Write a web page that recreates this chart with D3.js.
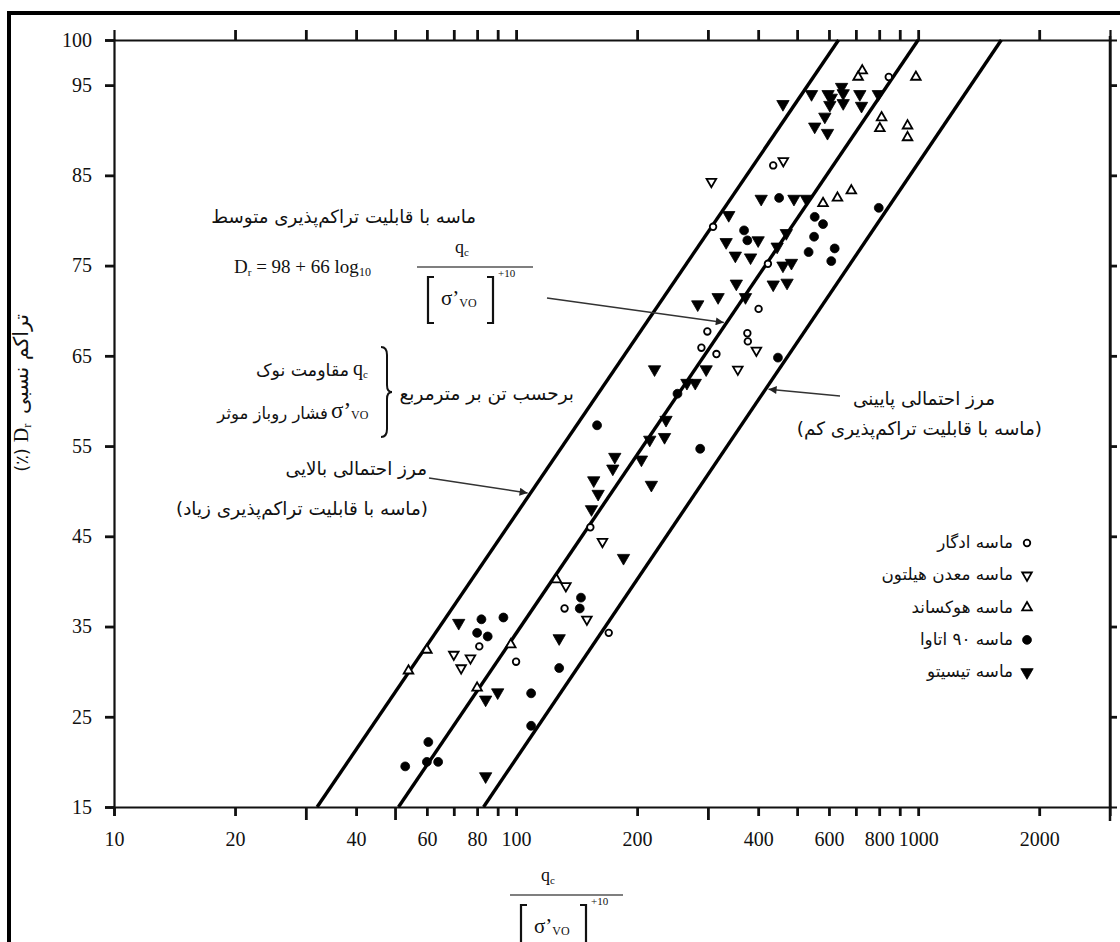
<!DOCTYPE html>
<html>
<head>
<meta charset="utf-8">
<script src="https://cdn.jsdelivr.net/npm/d3@7"></script>
<style>
body { margin: 0; background: #fff; }
svg { display: block; }
.num { font-family: "Liberation Serif", "Times New Roman", serif; fill: #111; }
.fa { font-family: "DejaVu Sans", sans-serif; fill: #111; }
.ser { font-family: "Liberation Serif", "Times New Roman", serif; fill: #111; }
</style>
</head>
<body>
<div id="chart"></div>
<script>
//Page size
const WIDTH = 1120;
const HEIGHT = 942;

//Axis values
const X_DOMAIN = [10, 3000];
const Y_DOMAIN = [15, 100];
const X_TICKS = [10, 20, 30, 40, 50, 60, 70, 80, 90, 100, 200, 300, 400, 500, 600, 700, 800, 900, 1000, 2000];
const X_LABELS = [10, 20, 40, 60, 80, 100, 200, 400, 600, 800, 1000, 2000];
const X_LONG_TICKS = [30, 50, 300];
const Y_LABELS = [15, 25, 35, 45, 55, 65, 75, 85, 95, 100];

//Boundary lines [qc/sqrt(s'vo), Dr]
const UPPER_BOUND = [[32, 15], [634, 100]];
const MEAN_LINE = [[51, 15], [1000, 100]];
const LOWER_BOUND = [[83, 15], [1610, 100]];

//Data points [qc/sqrt(s'vo), Dr]
const EDGAR = [[845, 95.9], [436, 86.1], [309, 79.3], [423, 75.2], [401, 70.2], [299, 67.7], [376, 67.5],
  [377, 66.6], [289, 65.9], [315, 65.2], [153, 46.0], [132, 37.0], [170, 34.3], [81, 32.8], [100, 31.1]];
const HILTON = [[306, 84.3], [462, 86.6], [396, 65.6], [356, 63.5], [164, 44.4], [133, 39.5], [150, 35.8],
  [70, 31.9], [77, 31.5], [73, 30.4]];
const HOKKSUND = [[726, 96.6], [709, 95.9], [987, 95.9], [811, 91.4], [803, 90.2], [941, 90.5], [941, 89.2],
  [580, 81.9], [630, 82.5], [682, 83.3], [60, 32.4], [54, 30.1], [80, 28.2], [97, 33.0], [126, 40.2]];
const OTTAWA = [[451, 82.5], [798, 81.4], [369, 78.9], [376, 77.8], [553, 80.4], [580, 79.6], [551, 78.2],
  [534, 76.5], [620, 76.9], [608, 75.5], [448, 64.8], [252, 60.8], [159, 57.3], [287, 54.7], [145, 38.2],
  [144, 37.0], [128, 30.4], [109, 27.6], [109, 24.0], [82, 35.8], [93, 36.0], [80, 34.3], [85, 33.9],
  [60.5, 22.2], [53, 19.5], [60, 20.0], [64, 20.0]];
const TICINO = [[461, 92.9], [543, 94.0], [597, 94.0], [608, 93.6], [603, 92.8], [645, 94.8], [651, 94.1],
  [651, 93.0], [716, 94.0], [723, 92.7], [796, 94.0], [586, 91.5], [553, 90.4], [595, 89.7], [407, 82.4],
  [491, 82.4], [527, 82.4], [338, 80.6], [333, 77.6], [400, 77.8], [470, 78.6], [446, 77.1], [351, 76.1],
  [383, 75.9], [461, 75.0], [484, 75.3], [353, 73.0], [436, 72.9], [472, 73.1], [372, 71.5], [318, 71.5],
  [283, 70.7], [221, 63.5], [297, 63.5], [266, 62.0], [279, 62.0], [236, 57.9], [234, 56.0], [215, 55.7],
  [176, 53.8], [174, 52.5], [205, 53.5], [217, 50.7], [156, 51.2], [160, 49.7], [154, 48.0], [185, 42.6],
  [128, 33.7], [72, 35.4], [84, 26.9], [90, 27.7], [84, 18.4]];

//Legend names
const SERIES_NAMES = ["ماسه ادگار", "ماسه معدن هیلتون", "ماسه هوکساند", "ماسه ۹۰ اتاوا", "ماسه تیسیتو"];

//////////////////////////////////////////////////

var svg = d3.select("#chart").append("svg")
  .attr("width", WIDTH)
  .attr("height", HEIGHT);

var x = d3.scaleLog().domain(X_DOMAIN).range([114, 1110]);
var y = d3.scaleLinear().domain(Y_DOMAIN).range([807, 40]);

//arrow head
svg.append("defs").append("marker")
  .attr("id", "head")
  .attr("viewBox", "0 0 10 10")
  .attr("refX", 10).attr("refY", 5)
  .attr("markerWidth", 15).attr("markerHeight", 8)
  .attr("markerUnits", "userSpaceOnUse")
  .attr("orient", "auto")
  .append("path").attr("d", "M0,0 L10,5 L0,10 z").attr("fill", "#222");

//Outer frame (top and left)
svg.append("line").attr("x1", 7).attr("x2", WIDTH).attr("y1", 13).attr("y2", 13)
  .attr("stroke", "#000").attr("stroke-width", 4);
svg.append("line").attr("x1", 9).attr("x2", 9).attr("y1", 11).attr("y2", HEIGHT)
  .attr("stroke", "#000").attr("stroke-width", 4);

//////////////////////////////////////////////////
//Axes
function styleAxis(g) {
  g.attr("font-size", null).attr("font-family", null);
  g.select(".domain").attr("stroke", "#111").attr("stroke-width", 2.2);
  g.selectAll(".tick line").attr("stroke", "#111").attr("stroke-width", 2.8);
  g.selectAll(".tick text").attr("class", "num").style("font-size", "20px");
}

var axBottom = svg.append("g").attr("transform", "translate(0," + y(15) + ")")
  .call(d3.axisBottom(x).tickValues(X_TICKS).tickSizeOuter(0).tickSize(9).tickPadding(16)
    .tickFormat(d => X_LABELS.includes(d) ? d : ""));
axBottom.call(styleAxis);
axBottom.selectAll(".tick line").attr("y2", d => X_LONG_TICKS.includes(d) ? 13 : 9);

var axTop = svg.append("g").attr("transform", "translate(0," + y(100) + ")")
  .call(d3.axisTop(x).tickValues(X_TICKS.filter(d => d > 10)).tickSizeOuter(0).tickSize(10).tickFormat(""));
axTop.call(styleAxis);

var axLeft = svg.append("g").attr("transform", "translate(" + x(10) + ",0)")
  .call(d3.axisLeft(y).tickValues(Y_LABELS).tickSizeOuter(0).tickSize(9).tickPadding(13));
axLeft.call(styleAxis);

var axRight = svg.append("g").attr("transform", "translate(" + x(3000) + ",0)")
  .call(d3.axisRight(y).tickValues(Y_LABELS.filter(d => d > 15 && d < 100)).tickSizeOuter(0).tickSize(7).tickFormat(""));
axRight.call(styleAxis);
svg.append("line").attr("x1", x(3000)).attr("x2", x(3000)).attr("y1", y(100) - 4).attr("y2", y(15) + 14)
  .attr("stroke", "#111").attr("stroke-width", 2.5);

//////////////////////////////////////////////////
//Boundary lines
var line = d3.line().x(d => x(d[0])).y(d => y(d[1]));
[UPPER_BOUND, MEAN_LINE, LOWER_BOUND].forEach(function(l) {
  svg.append("path").attr("d", line(l))
    .attr("fill", "none").attr("stroke", "#000").attr("stroke-width", 3.4);
});

//point on a boundary line at a given Dr
function onLine(l, dr) {
  var a = Math.log10(l[0][0]), b = Math.log10(l[1][0]);
  var t = (dr - l[0][1]) / (l[1][1] - l[0][1]);
  return [x(Math.pow(10, a + t * (b - a))), y(dr)];
}

//////////////////////////////////////////////////
//Points
var series = [
  {data: EDGAR, type: d3.symbolCircle, size: 34, filled: false, rot: 0},
  {data: HILTON, type: d3.symbolTriangle, size: 40, filled: false, rot: 180},
  {data: HOKKSUND, type: d3.symbolTriangle, size: 40, filled: false, rot: 0},
  {data: OTTAWA, type: d3.symbolCircle, size: 62, filled: true, rot: 0},
  {data: TICINO, type: d3.symbolTriangle, size: 66, filled: true, rot: 180}
];

function drawSymbol(g, s, px, py) {
  g.append("path")
    .attr("d", d3.symbol().type(s.type).size(s.size)())
    .attr("transform", "translate(" + px + "," + py + ") rotate(" + s.rot + ")")
    .attr("fill", s.filled ? "#000" : "#fff")
    .attr("stroke", "#000")
    .attr("stroke-width", s.filled ? 0.8 : 1.8);
}

var pts = svg.append("g");
series.forEach(function(s) {
  s.data.forEach(function(d) { drawSymbol(pts, s, x(d[0]), y(d[1])); });
});

//Legend
var legend = svg.append("g");
series.forEach(function(s, i) {
  var ly = 548 + i * 32.3;
  drawSymbol(legend, s, 1027, ly - 5);
  legend.append("text").attr("class", "fa").attr("font-size", 16.8)
    .attr("x", 1013).attr("y", ly).attr("text-anchor", "end").text(SERIES_NAMES[i]);
});

//////////////////////////////////////////////////
//Annotations
var ann = svg.append("g");

function bracketL(g, bx, y0, y1) {
  g.append("path").attr("d", "M" + (bx + 6) + "," + y0 + " H" + bx + " V" + y1 + " H" + (bx + 6))
    .attr("fill", "none").attr("stroke", "#111").attr("stroke-width", 2.2);
}
function bracketR(g, bx, y0, y1) {
  g.append("path").attr("d", "M" + (bx - 6) + "," + y0 + " H" + bx + " V" + y1 + " H" + (bx - 6))
    .attr("fill", "none").attr("stroke", "#111").attr("stroke-width", 2.2);
}
//q_c over [s'vo]^0.5
function fraction(g, cx, ty, lineX0, lineX1) {
  var q = g.append("text").attr("class", "ser").attr("font-size", 18).attr("x", cx).attr("y", ty)
    .attr("text-anchor", "middle");
  q.append("tspan").text("q");
  q.append("tspan").attr("font-size", 11).attr("dy", 3).text("c");
  g.append("line").attr("x1", lineX0).attr("x2", lineX1).attr("y1", ty + 14).attr("y2", ty + 14)
    .attr("stroke", "#555").attr("stroke-width", 1.4);
  var bx = lineX0 + 11;
  bracketL(g, bx, ty + 24, ty + 70);
  bracketR(g, bx + 65, ty + 24, ty + 70);
  var s = g.append("text").attr("class", "ser").attr("font-size", 21).attr("x", bx + 13).attr("y", ty + 52);
  s.append("tspan").text("σ’");
  s.append("tspan").attr("font-size", 12).attr("dy", 2).text("VO");
  g.append("text").attr("class", "ser").attr("font-size", 11).attr("x", bx + 70).attr("y", ty + 24).text("+10");
}

//Mean line label
ann.append("text").attr("class", "fa").attr("font-size", 18.2)
  .attr("x", 476).attr("y", 223).attr("text-anchor", "end").text("ماسه با قابلیت تراکم‌پذیری متوسط");
var eq = ann.append("text").attr("class", "ser").attr("font-size", 19).attr("x", 234).attr("y", 273);
eq.append("tspan").text("D");
eq.append("tspan").attr("font-size", 11).attr("dy", 3).text("r");
eq.append("tspan").attr("dy", -3).text(" = 98 + 66 log");
eq.append("tspan").attr("font-size", 12).attr("dy", 3).text("10");
fraction(ann, 462, 253, 417, 533);
var tipMean = onLine(MEAN_LINE, 68.7);
ann.append("line").attr("x1", 547).attr("y1", 298).attr("x2", tipMean[0] - 3).attr("y2", tipMean[1])
  .attr("stroke", "#333").attr("stroke-width", 1.4).attr("marker-end", "url(#head)");

//Units note
var q1 = ann.append("text").attr("class", "ser").attr("font-size", 20).attr("x", 353).attr("y", 375);
q1.append("tspan").text("q");
q1.append("tspan").attr("font-size", 11).attr("dy", 3).text("c");
ann.append("text").attr("class", "fa").attr("font-size", 17.4)
  .attr("x", 349).attr("y", 376).attr("text-anchor", "end").text("مقاومت نوک");
var s1 = ann.append("text").attr("class", "ser").attr("font-size", 23).attr("x", 331).attr("y", 418);
s1.append("tspan").text("σ’");
s1.append("tspan").attr("font-size", 12).attr("dy", 1).text("VO");
ann.append("text").attr("class", "fa").attr("font-size", 16.5)
  .attr("x", 328).attr("y", 419).attr("text-anchor", "end").text("فشار روباز موثر");
//brace
var bx0 = 381, by0 = 347, by1 = 437, bm = (by0 + by1) / 2;
ann.append("path")
  .attr("d", "M" + bx0 + "," + by0 + " Q" + (bx0 + 6) + "," + by0 + " " + (bx0 + 6) + "," + (by0 + 8) +
    " V" + (bm - 7) + " Q" + (bx0 + 6) + "," + bm + " " + (bx0 + 11) + "," + bm +
    " Q" + (bx0 + 6) + "," + bm + " " + (bx0 + 6) + "," + (bm + 7) +
    " V" + (by1 - 8) + " Q" + (bx0 + 6) + "," + by1 + " " + bx0 + "," + by1)
  .attr("fill", "none").attr("stroke", "#111").attr("stroke-width", 2);
ann.append("text").attr("class", "fa").attr("font-size", 18.5)
  .attr("x", 574).attr("y", 400).attr("text-anchor", "end").text("برحسب تن بر مترمربع");

//Upper bound label
ann.append("text").attr("class", "fa").attr("font-size", 18.4)
  .attr("x", 427).attr("y", 475).attr("text-anchor", "end").text("مرز احتمالی بالایی");
ann.append("text").attr("class", "fa").attr("font-size", 18.4)
  .attr("x", 428).attr("y", 515).attr("text-anchor", "end").text("(ماسه با قابلیت تراکم‌پذیری زیاد)");
var tipUp = onLine(UPPER_BOUND, 49.8);
ann.append("line").attr("x1", 429).attr("y1", 478).attr("x2", tipUp[0] - 3).attr("y2", tipUp[1])
  .attr("stroke", "#333").attr("stroke-width", 1.4).attr("marker-end", "url(#head)");

//Lower bound label
ann.append("text").attr("class", "fa").attr("font-size", 18.4)
  .attr("x", 995).attr("y", 405).attr("text-anchor", "end").text("مرز احتمالی پایینی");
ann.append("text").attr("class", "fa").attr("font-size", 18.4)
  .attr("x", 1042).attr("y", 435).attr("text-anchor", "end").text("(ماسه با قابلیت تراکم‌پذیری کم)");
var tipLow = onLine(LOWER_BOUND, 61.3);
ann.append("line").attr("x1", 840).attr("y1", 396).attr("x2", tipLow[0] + 3).attr("y2", tipLow[1])
  .attr("stroke", "#333").attr("stroke-width", 1.4).attr("marker-end", "url(#head)");

//////////////////////////////////////////////////
//Axis titles
var yl = svg.append("g").attr("transform", "translate(28,380) rotate(-90)");
yl.append("text").attr("class", "fa").attr("font-size", 18).attr("x", -80).attr("text-anchor", "middle").text("(٪)");
var dr = yl.append("text").attr("class", "ser").attr("font-size", 20).attr("x", -53).attr("text-anchor", "middle");
dr.append("tspan").text("D");
dr.append("tspan").attr("font-size", 12).attr("dy", 3).text("r");
yl.append("text").attr("class", "fa").attr("font-size", 20.5).attr("x", -34).attr("text-anchor", "start").text("تراکم نسبی");

fraction(svg, 548, 881, 510, 623);
</script>
</body>
</html>
